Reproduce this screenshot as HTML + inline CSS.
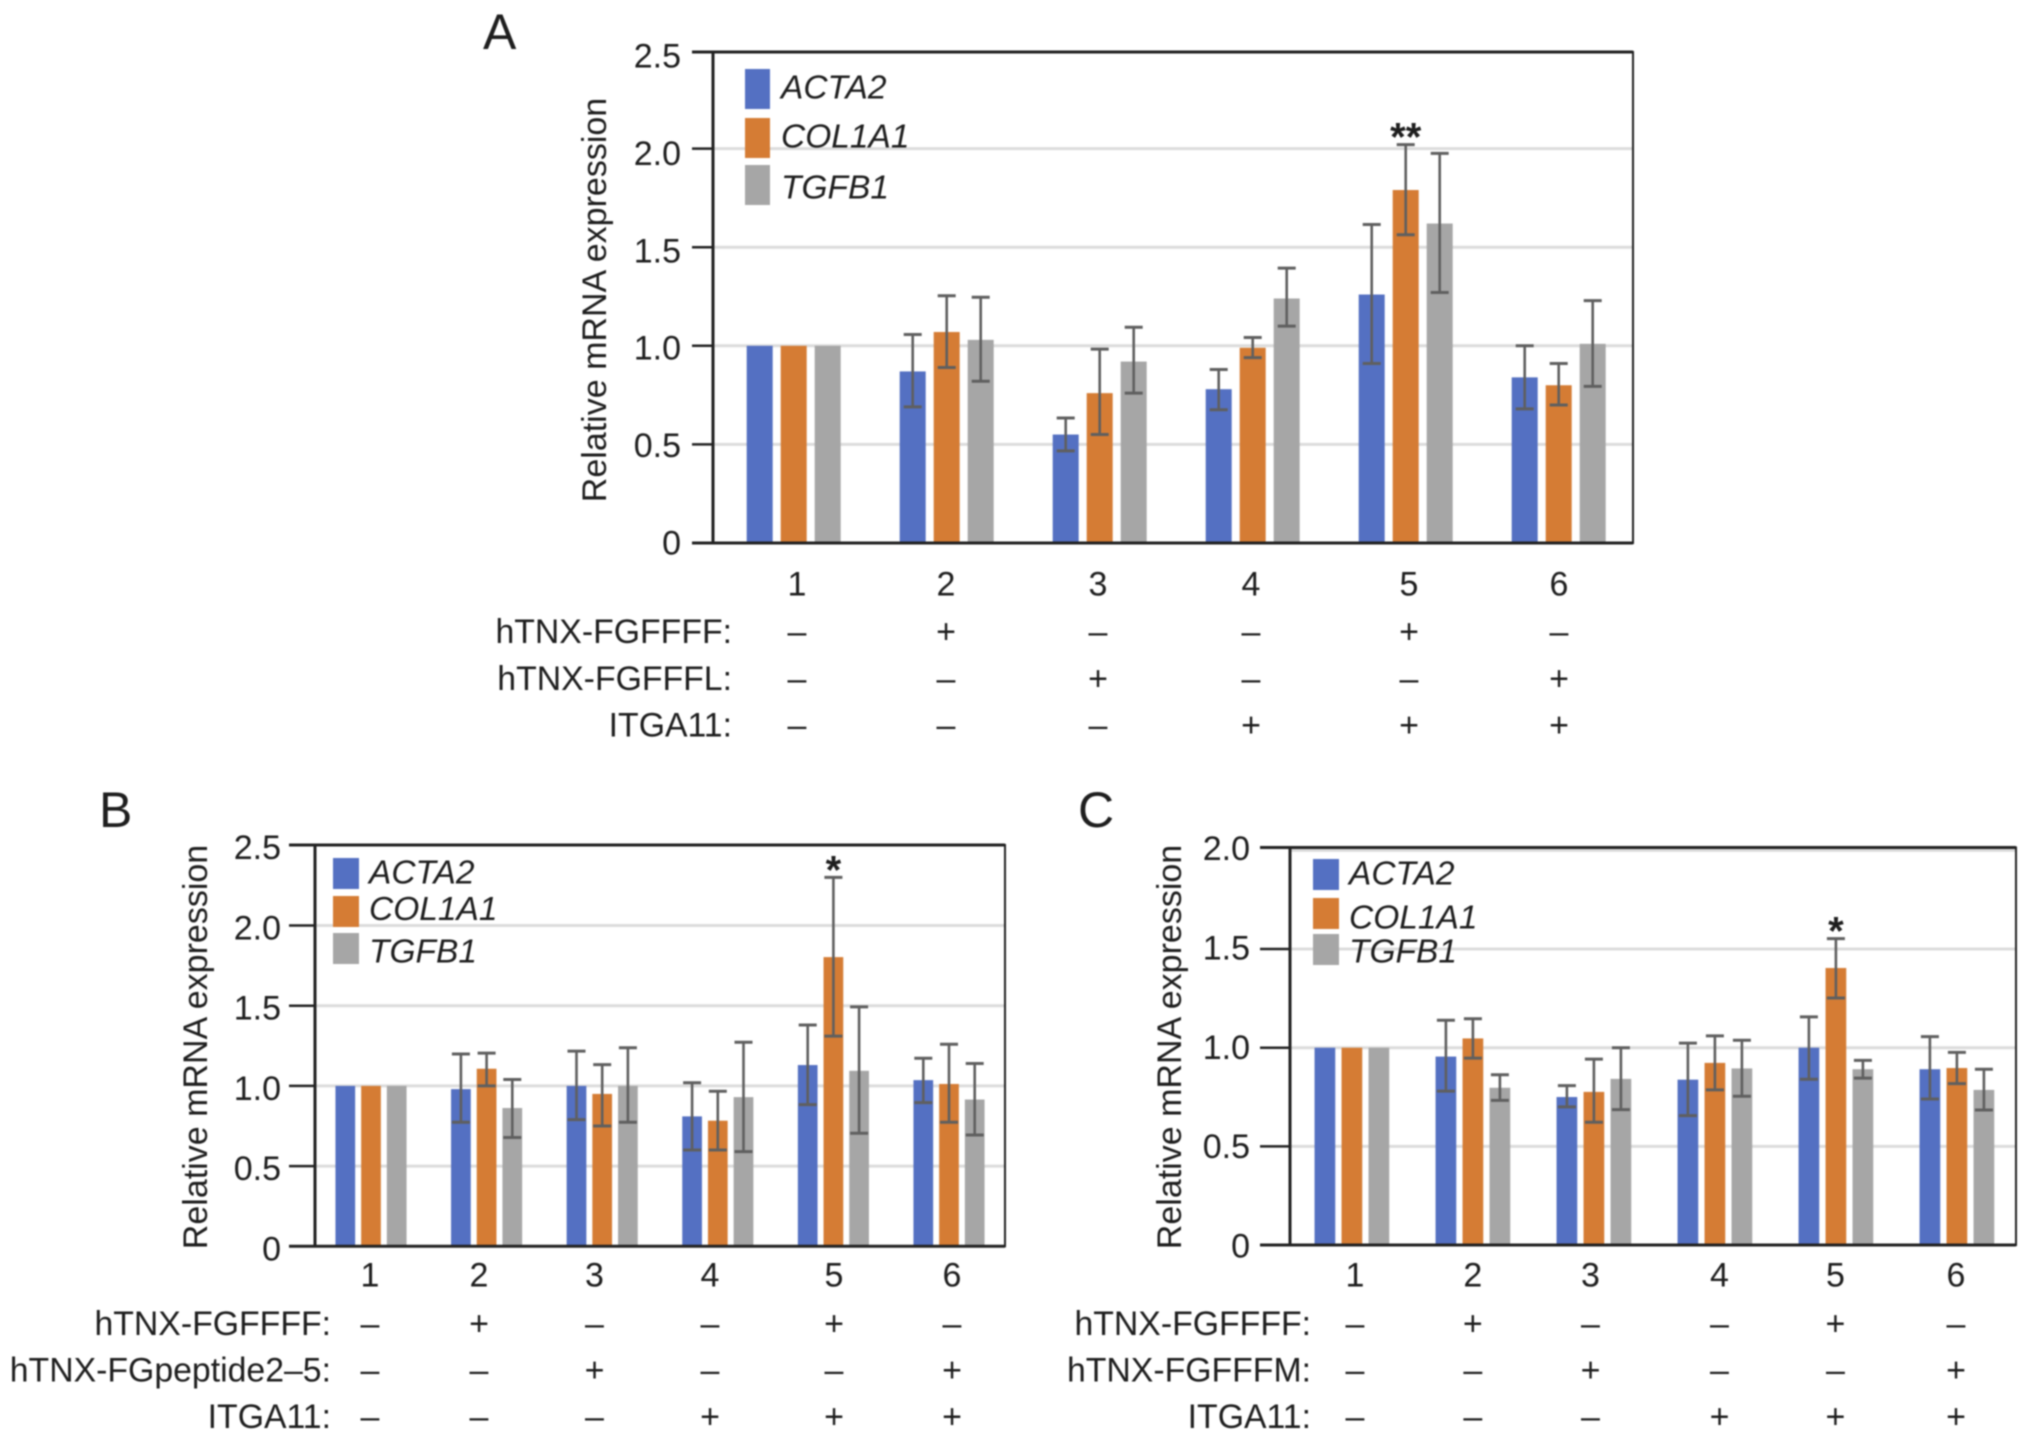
<!DOCTYPE html>
<html lang="en">
<head>
<meta charset="utf-8">
<title>Relative mRNA expression panels</title>
<style>
html,body{margin:0;padding:0;background:#fff;width:2032px;height:1441px;overflow:hidden}
svg{display:block;filter:blur(0.7px)}
text{font-family:"Liberation Sans",Arial,sans-serif;fill:#1e1e1e}
</style>
</head>
<body>
<svg id="figure" xmlns="http://www.w3.org/2000/svg" width="2032" height="1441" viewBox="0 0 2032 1441"></svg>
<script>
// Panel A values
const panelAActa2 = [1, 0.87, 0.55, 0.78, 1.26, 0.84];
const panelACol1a1 = [1, 1.07, 0.76, 0.99, 1.79, 0.80];
const panelATgfb1 = [1, 1.03, 0.92, 1.24, 1.62, 1.01];
const panelAActa2Hi = [1, 1.057, 0.634, 0.88, 1.615, 1.0];
const panelACol1a1Hi = [1, 1.254, 0.983, 1.042, 2.02, 0.91];
const panelATgfb1Hi = [1, 1.246, 1.094, 1.394, 1.976, 1.229];
const panelAActa2Lo = [1, 0.69, 0.467, 0.676, 0.91, 0.68];
const panelACol1a1Lo = [1, 0.89, 0.55, 0.94, 1.563, 0.70];
const panelATgfb1Lo = [1, 0.82, 0.76, 1.10, 1.27, 0.794];
// Panel B values
const panelBActa2 = [1, 0.98, 1.0, 0.81, 1.13, 1.036];
const panelBCol1a1 = [1, 1.107, 0.95, 0.783, 1.803, 1.012];
const panelBTgfb1 = [1, 0.862, 1.0, 0.93, 1.094, 0.915];
const panelBActa2Hi = [1, 1.199, 1.217, 1.02, 1.38, 1.172];
const panelBCol1a1Hi = [1, 1.204, 1.133, 0.967, 2.30, 1.26];
const panelBTgfb1Hi = [1, 1.04, 1.238, 1.272, 1.493, 1.14];
const panelBActa2Lo = [1, 0.773, 0.79, 0.60, 0.883, 0.896];
const panelBCol1a1Lo = [1, 1.0, 0.75, 0.60, 1.31, 0.773];
const panelBTgfb1Lo = [1, 0.678, 0.773, 0.59, 0.705, 0.694];
// Panel C values
const panelCActa2 = [1, 0.955, 0.75, 0.838, 1.0, 0.891];
const panelCCol1a1 = [1, 1.047, 0.776, 0.923, 1.404, 0.897];
const panelCTgfb1 = [1, 0.797, 0.842, 0.895, 0.891, 0.786];
const panelCActa2Hi = [1, 1.139, 0.808, 1.023, 1.156, 1.056];
const panelCCol1a1Hi = [1, 1.147, 0.942, 1.06, 1.553, 0.976];
const panelCTgfb1Hi = [1, 0.863, 1.0, 1.038, 0.936, 0.891];
const panelCActa2Lo = [1, 0.78, 0.70, 0.656, 0.84, 0.74];
const panelCCol1a1Lo = [1, 0.947, 0.622, 0.786, 1.252, 0.818];
const panelCTgfb1Lo = [1, 0.733, 0.686, 0.754, 0.846, 0.684];
// Shared labels
const categories = ['1', '2', '3', '4', '5', '6'];
const seriesNames = ['ACTA2', 'COL1A1', 'TGFB1'];
const ticksAB = [0, 0.5, 1, 1.5, 2, 2.5];
const tickLabelsAB = ['0', '0.5', '1.0', '1.5', '2.0', '2.5'];
const ticksC = [0, 0.5, 1, 1.5, 2];
const tickLabelsC = ['0', '0.5', '1.0', '1.5', '2.0'];
const rowFgffff = ['–', '+', '–', '–', '+', '–'];
const rowVariant = ['–', '–', '+', '–', '–', '+'];
const rowItga11 = ['–', '–', '–', '+', '+', '+'];

const colors = ['#5470c2', '#d57c34', '#a6a6a6'];
const svg = document.getElementById('figure');
const NS = 'http://www.w3.org/2000/svg';

function rect(parent, x, y, w, h, fill) {
  const el = document.createElementNS(NS, 'rect');
  el.setAttribute('x', x);
  el.setAttribute('y', y);
  el.setAttribute('width', w);
  el.setAttribute('height', h);
  el.setAttribute('fill', fill);
  parent.appendChild(el);
  return el;
}
function line(parent, x1, y1, x2, y2, stroke, sw) {
  const el = document.createElementNS(NS, 'line');
  el.setAttribute('x1', x1);
  el.setAttribute('y1', y1);
  el.setAttribute('x2', x2);
  el.setAttribute('y2', y2);
  el.setAttribute('stroke', stroke);
  el.setAttribute('stroke-width', sw);
  parent.appendChild(el);
  return el;
}
function label(parent, x, y, str, anchor, size) {
  const el = document.createElementNS(NS, 'text');
  el.setAttribute('x', x);
  el.setAttribute('y', y);
  el.setAttribute('text-anchor', anchor);
  el.setAttribute('font-size', size);
  el.textContent = str;
  parent.appendChild(el);
  return el;
}

function drawPanel(p) {
  const g = document.createElementNS(NS, 'g');
  
  
  svg.appendChild(g);

  const yScale = v => p.bottom - v * p.unit;
  const labelY = v => p.labelZero - v * p.labelUnit;
  const xCenter = i => p.firstCenter + i * p.groupPitch;

  const letter = label(g, p.letterX, p.letterY, p.id, 'start', 50);
  
  

  // gridlines
  p.ticks.forEach(v => {
    if (v === 0 || yScale(v) <= p.top + 2) return;
    const gl = line(g, p.left, yScale(v), p.right, yScale(v), '#dcdcdc', 3);
    
    
  });

  // bars and error bars
  const marks = [];
  categories.forEach((c, i) => {
    p.series.forEach((vals, s) => {
      const cx = xCenter(i) + (s - 1) * p.barPitch;
      const bar = rect(g, cx - p.barWidth / 2, yScale(vals[i]), p.barWidth, p.bottom - yScale(vals[i]), colors[s]);
      
      
      marks.push({ cx: cx, hi: p.hi[s][i], lo: p.lo[s][i], s: s, i: i });
    });
  });
  marks.forEach(m => {
    if (m.hi === m.lo) return;
    const eb = line(g, m.cx, yScale(m.hi), m.cx, yScale(m.lo), '#5f5f5f', 2.6);
    
    
    const capTop = line(g, m.cx - 9, yScale(m.hi), m.cx + 9, yScale(m.hi), '#5f5f5f', 3);
    
    
    const capBottom = line(g, m.cx - 9, yScale(m.lo), m.cx + 9, yScale(m.lo), '#5f5f5f', 3);
    
    
  });

  // significance marker on column 5
  const peak = p.hi[1][4];
  const star = label(g, xCenter(4), yScale(peak) + p.starOffset, p.stars, 'middle', 40);
  star.setAttribute('font-weight', 'bold');
  star.setAttribute('fill', '#111');
  
  

  // frame
  const frameTop = line(g, p.tickStart, p.top, p.right, p.top, '#222', 3);
  
  
  const frameBottom = line(g, p.tickStart, p.bottom, p.right, p.bottom, '#222', 3);
  
  
  const frameLeft = line(g, p.left, p.top - 1, p.left, p.bottom + 1, '#222', 3);
  
  
  const frameRight = line(g, p.right, p.top - 1, p.right, p.bottom + 1, '#222', 2);
  
  

  // y ticks
  p.ticks.forEach((v, k) => {
    const ty = (k === p.ticks.length - 1) ? p.top : yScale(v);
    const tm = line(g, p.tickStart, ty, p.left, ty, '#222', 2.5);
    
    
    const tl = label(g, p.tickLabelRight, labelY(v) + 11.5, p.tickLabels[k], 'end', 34);
    
    
  });

  // y title
  const yt = label(g, 0, 0, 'Relative mRNA expression', 'middle', 34);
  yt.setAttribute('transform', 'translate(' + p.titleX + ',' + p.titleY + ') rotate(-90)');
  
  

  // legend
  seriesNames.forEach((name, s) => {
    const sw = rect(g, p.legendX, p.legendY[s], p.legendW, p.legendH, colors[s]);
    
    
    const lt = label(g, p.legendTextX, p.legendY[s] + p.legendH / 2 + 11.5 + p.legendTextDy[s], name, 'start', 33.5);
    lt.setAttribute('font-style', 'italic');
    
    
  });

  // categories
  categories.forEach((c, i) => {
    const cl = label(g, p.colX[i], p.catY + 11.5, c, 'middle', 34);
    
    
  });

  // treatment table
  p.rows.forEach((row, r) => {
    const rl = label(g, p.rowRight, p.rowY[r] + 11.5, row.name, 'end', 33.8);
    
    
    row.signs.forEach((sign, i) => {
      const st = label(g, p.colX[i], p.rowY[r] + 11.5, sign, 'middle', 34);
      
      
    });
  });
}

drawPanel({
  id: 'A', letterX: 483, letterY: 49,
  left: 713, right: 1633, top: 52, bottom: 543, tickStart: 692, unit: 197.2,
  labelZero: 543, labelUnit: 194.8, tickLabelRight: 681,
  firstCenter: 793.7, groupPitch: 153, barPitch: 34, barWidth: 26,
  series: [panelAActa2, panelACol1a1, panelATgfb1],
  hi: [panelAActa2Hi, panelACol1a1Hi, panelATgfb1Hi],
  lo: [panelAActa2Lo, panelACol1a1Lo, panelATgfb1Lo],
  ticks: ticksAB, tickLabels: tickLabelsAB, stars: '**', starOffset: 6,
  titleX: 606, titleY: 300,
  legendX: 745, legendY: [69, 118, 165], legendW: 25, legendH: 40, legendTextX: 781, legendTextDy: [-2, -2, 2],
  colX: [797, 946, 1098, 1251, 1409, 1559], catY: 584,
  rowRight: 732, rowY: [631.6, 678.6, 725],
  rows: [{ name: 'hTNX-FGFFFF:', signs: rowFgffff }, { name: 'hTNX-FGFFFL:', signs: rowVariant }, { name: 'ITGA11:', signs: rowItga11 }]
});

drawPanel({
  id: 'B', letterX: 99, letterY: 827,
  left: 315, right: 1005, top: 845, bottom: 1246.3, tickStart: 289, unit: 160.4,
  labelZero: 1249, labelUnit: 160.6, tickLabelRight: 281,
  firstCenter: 371, groupPitch: 115.6, barPitch: 25.7, barWidth: 19.7,
  series: [panelBActa2, panelBCol1a1, panelBTgfb1],
  hi: [panelBActa2Hi, panelBCol1a1Hi, panelBTgfb1Hi],
  lo: [panelBActa2Lo, panelBCol1a1Lo, panelBTgfb1Lo],
  ticks: ticksAB, tickLabels: tickLabelsAB, stars: '*', starOffset: 6,
  titleX: 207, titleY: 1047,
  legendX: 333, legendY: [858, 896, 933], legendW: 26, legendH: 31, legendTextX: 369, legendTextDy: [-1.5, -3, 2.5],
  colX: [370, 479, 594.5, 710, 834, 952], catY: 1275,
  rowRight: 331, rowY: [1323.7, 1370, 1416.4],
  rows: [{ name: 'hTNX-FGFFFF:', signs: rowFgffff }, { name: 'hTNX-FGpeptide2–5:', signs: rowVariant }, { name: 'ITGA11:', signs: rowItga11 }]
});

drawPanel({
  id: 'C', letterX: 1078, letterY: 827,
  left: 1290, right: 2016, top: 847.5, bottom: 1245, tickStart: 1260, unit: 197.3,
  labelZero: 1246, labelUnit: 198.7, tickLabelRight: 1250,
  firstCenter: 1351.9, groupPitch: 121, barPitch: 27, barWidth: 20.7,
  series: [panelCActa2, panelCCol1a1, panelCTgfb1],
  hi: [panelCActa2Hi, panelCCol1a1Hi, panelCTgfb1Hi],
  lo: [panelCActa2Lo, panelCCol1a1Lo, panelCTgfb1Lo],
  ticks: ticksC, tickLabels: tickLabelsC, stars: '*', starOffset: 6,
  titleX: 1181, titleY: 1047,
  legendX: 1313, legendY: [859, 898, 934], legendW: 26, legendH: 31, legendTextX: 1349, legendTextDy: [-1.5, 3.5, 1.5],
  colX: [1355, 1472.8, 1590.5, 1719.5, 1835.4, 1956], catY: 1275,
  rowRight: 1311, rowY: [1323.7, 1370, 1416.4],
  rows: [{ name: 'hTNX-FGFFFF:', signs: rowFgffff }, { name: 'hTNX-FGFFFM:', signs: rowVariant }, { name: 'ITGA11:', signs: rowItga11 }]
});
</script>
</body>
</html>
